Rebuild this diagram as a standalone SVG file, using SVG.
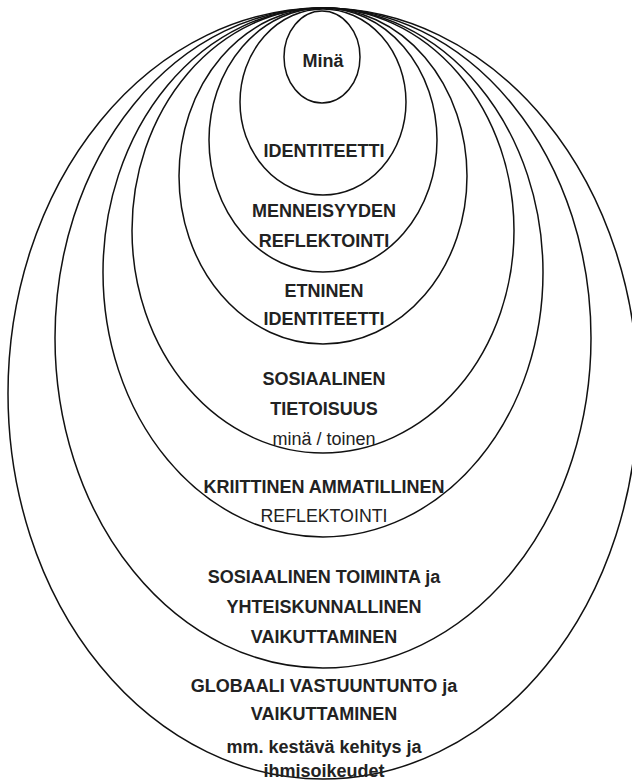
<svg xmlns="http://www.w3.org/2000/svg" width="632" height="782" viewBox="0 0 632 782">
<style>
.ring{fill:none;stroke:#111;stroke-width:1.5}
.b{font-family:"Liberation Sans",Arial,sans-serif;font-weight:bold;font-size:18px;fill:#222;text-anchor:middle}
.r{font-family:"Liberation Sans",Arial,sans-serif;font-size:18px;fill:#222;text-anchor:middle}
</style>
<rect width="632" height="782" fill="#fff"/>
<g id="globaali">
<ellipse class="ring" cx="323" cy="393.5" rx="315" ry="385.5"/>
<text class="b" x="324" y="692">GLOBAALI VASTUUNTUNTO ja</text>
<text class="b" x="324" y="720">VAIKUTTAMINEN</text>
<text class="b" x="324" y="753">mm. kestävä kehitys ja</text>
<text class="b" x="324" y="777">ihmisoikeudet</text>
</g>
<g id="sosiaalinen-toiminta">
<ellipse class="ring" cx="323" cy="338" rx="268" ry="330"/>
<text class="b" x="324" y="583">SOSIAALINEN TOIMINTA ja</text>
<text class="b" x="324" y="613">YHTEISKUNNALLINEN</text>
<text class="b" x="324" y="643">VAIKUTTAMINEN</text>
</g>
<g id="kriittinen">
<ellipse class="ring" cx="323" cy="272.5" rx="220" ry="264.5"/>
<text class="b" x="324" y="493">KRIITTINEN AMMATILLINEN</text>
<text class="r" x="324" y="522" textLength="127" lengthAdjust="spacingAndGlyphs">REFLEKTOINTI</text>
</g>
<g id="sosiaalinen-tietoisuus">
<ellipse class="ring" cx="323" cy="230.5" rx="191" ry="222.5"/>
<text class="b" x="324" y="385">SOSIAALINEN</text>
<text class="b" x="324" y="415">TIETOISUUS</text>
<text class="r" x="324" y="445">minä / toinen</text>
</g>
<g id="etninen">
<ellipse class="ring" cx="323" cy="176" rx="144" ry="168"/>
<text class="b" x="324" y="297">ETNINEN</text>
<text class="b" x="324" y="325">IDENTITEETTI</text>
</g>
<g id="menneisyyden">
<ellipse class="ring" cx="323" cy="140" rx="114" ry="132"/>
<text class="b" x="324" y="217">MENNEISYYDEN</text>
<text class="b" x="324" y="247">REFLEKTOINTI</text>
</g>
<g id="identiteetti">
<ellipse class="ring" cx="323" cy="102" rx="83" ry="93"/>
<text class="b" x="324" y="157">IDENTITEETTI</text>
</g>
<g id="mina">
<ellipse class="ring" cx="322" cy="57" rx="38" ry="46"/>
<text class="b" x="323" y="67">Minä</text>
</g>
<g id="connectors"/>
</svg>
